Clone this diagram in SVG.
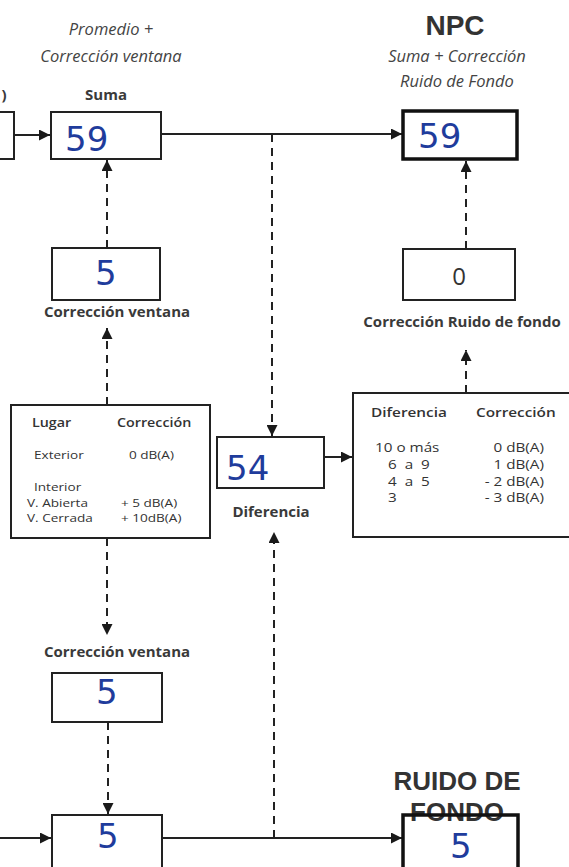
<svg xmlns="http://www.w3.org/2000/svg" width="569" height="867" viewBox="0 0 569 867">
<defs>
<marker id="ah" viewBox="0 0 10 10" refX="10" refY="5" markerWidth="11" markerHeight="11" markerUnits="userSpaceOnUse" orient="auto">
<path d="M0,0 L10,5 L0,10 z" fill="#1a1a1a"/>
</marker>
<style>
.box{fill:#fff;stroke:#222;stroke-width:2}
.thick{fill:none;stroke:#111;stroke-width:3.5}
.ln{fill:none;stroke:#222;stroke-width:2}
.dash{fill:none;stroke:#222;stroke-width:2;stroke-dasharray:8 6}
.it{font-family:"Open Sans","Noto Sans",sans-serif;font-style:italic;font-size:16.5px;fill:#444;text-anchor:middle}
.lb{font-family:"Open Sans","Noto Sans",sans-serif;font-weight:bold;font-size:15px;fill:#3a3a3a;text-anchor:middle}
.big{font-family:"Liberation Sans",Arial,sans-serif;font-weight:bold;fill:#333;text-anchor:middle}
.t{font-family:"Open Sans","Noto Sans",sans-serif;font-size:11.5px;fill:#333}
.th{font-family:"Open Sans","Noto Sans",sans-serif;font-size:13px;font-weight:600;fill:#333}
.r{font-size:12.5px}
.e{text-anchor:end}
.hw{font-family:"DejaVu Sans",sans-serif;font-size:34px;fill:#1f3c9c}
</style>
</defs>
<rect width="569" height="867" fill="#fff"/>

<g id="connectors">
<line class="ln" x1="14" y1="135" x2="50" y2="135" marker-end="url(#ah)"/>
<line class="ln" x1="161" y1="134" x2="402" y2="134" marker-end="url(#ah)"/>
<line class="dash" x1="272" y1="134" x2="272" y2="436" marker-end="url(#ah)"/>
<line class="dash" x1="107" y1="248" x2="107" y2="160" marker-end="url(#ah)"/>
<line class="dash" x1="107" y1="405" x2="107" y2="328" marker-end="url(#ah)"/>
<line class="dash" x1="107" y1="538" x2="107" y2="635" marker-end="url(#ah)"/>
<line class="dash" x1="108" y1="722" x2="108" y2="814" marker-end="url(#ah)"/>
<line class="dash" x1="466" y1="249" x2="466" y2="161" marker-end="url(#ah)"/>
<line class="dash" x1="466" y1="393" x2="466" y2="350" marker-end="url(#ah)"/>
<line class="ln" x1="324" y1="457" x2="352" y2="457" marker-end="url(#ah)"/>
<line class="dash" x1="274" y1="838" x2="274" y2="532" marker-end="url(#ah)"/>
<line class="ln" x1="0" y1="838" x2="51" y2="838" marker-end="url(#ah)"/>
<line class="ln" x1="162" y1="838" x2="402" y2="838" marker-end="url(#ah)"/>
</g>

<g id="input-top">
<rect class="box" x="-6" y="112" width="20" height="47"/>
<text class="lb" x="4" y="100" font-size="18">)</text>
</g>

<g id="suma">
<text class="it" x="111" y="35">Promedio +</text>
<text class="it" x="111" y="62">Corrección ventana</text>
<text class="lb" x="106" y="100" font-size="19">Suma</text>
<rect class="box" x="51" y="112" width="110" height="47"/>
<text class="hw" x="65" y="151">59</text>
</g>

<g id="npc">
<text class="big" x="455" y="35" font-size="28">NPC</text>
<text class="it" x="457" y="62">Suma + Corrección</text>
<text class="it" x="457" y="87">Ruido de Fondo</text>
<rect class="box" x="403" y="111" width="114" height="48"/>
<rect class="thick" x="403" y="111" width="114" height="48"/>
<text class="hw" x="418" y="148">59</text>
</g>

<g id="correccion-ventana-top">
<rect class="box" x="52" y="248" width="108" height="52"/>
<text class="hw" x="95" y="285" font-size="32">5</text>
<text class="lb" x="117" y="317">Corrección ventana</text>
</g>

<g id="tabla-ventana">
<rect class="box" x="11" y="405" width="199" height="133"/>
<text class="th" transform="translate(32 427) scale(1.1 1)">Lugar</text>
<text class="th" transform="translate(117 427) scale(1.1 1)">Corrección</text>
<text class="t" transform="translate(34 459) scale(1.18 1)">Exterior</text>
<text class="t" transform="translate(129 459) scale(1.18 1)">0 dB(A)</text>
<text class="t" transform="translate(34 491) scale(1.18 1)">Interior</text>
<text class="t" transform="translate(27 507) scale(1.18 1)">V. Abierta</text>
<text class="t" transform="translate(121 507) scale(1.18 1)">+ 5 dB(A)</text>
<text class="t" transform="translate(27 522) scale(1.18 1)">V. Cerrada</text>
<text class="t" transform="translate(121 522) scale(1.18 1)">+ 10dB(A)</text>
</g>

<g id="diferencia">
<rect class="box" x="217" y="437" width="107" height="51"/>
<text class="hw" x="226" y="480" font-size="36">54</text>
<text class="lb" x="271" y="517">Diferencia</text>
</g>

<g id="correccion-ruido">
<rect class="box" x="403" y="249" width="112" height="51"/>
<text x="459" y="285" font-family="Open Sans, sans-serif" font-size="24" fill="#333" text-anchor="middle">0</text>
<text class="lb" x="462" y="327">Corrección Ruido de fondo</text>
</g>

<g id="tabla-ruido">
<rect class="box" x="353" y="393" width="230" height="144"/>
<text class="th" transform="translate(371 417) scale(1.18 1)" font-size="14">Diferencia</text>
<text class="th" transform="translate(476 417) scale(1.18 1)" font-size="14">Corrección</text>
<text class="t r" transform="translate(375 452) scale(1.22 1)">10 o más</text>
<text class="t r" transform="translate(388 469) scale(1.22 1)" xml:space="preserve">6  a  9</text>
<text class="t r" transform="translate(388 486) scale(1.22 1)" xml:space="preserve">4  a  5</text>
<text class="t r" transform="translate(388 502) scale(1.22 1)">3</text>
<text class="t r e" transform="translate(544 452) scale(1.22 1)">0 dB(A)</text>
<text class="t r e" transform="translate(544 469) scale(1.22 1)">1 dB(A)</text>
<text class="t r e" transform="translate(544 486) scale(1.22 1)">- 2 dB(A)</text>
<text class="t r e" transform="translate(544 502) scale(1.22 1)">- 3 dB(A)</text>
</g>

<g id="correccion-ventana-bottom">
<text class="lb" x="117" y="657">Corrección ventana</text>
<rect class="box" x="52" y="673" width="110" height="49"/>
<text class="hw" x="96" y="704" font-size="30">5</text>
</g>

<g id="input-bottom">
<rect class="box" x="52" y="815" width="110" height="60"/>
<text class="hw" x="97" y="848" font-size="28">5</text>
</g>

<g id="ruido-fondo">
<text class="big" x="457" y="790" font-size="26">RUIDO DE</text>
<text class="big" x="457" y="821" font-size="26">FONDO</text>
<rect class="thick" x="403" y="815" width="115" height="60"/>
<text class="hw" x="450" y="858" font-size="22">5</text>
</g>
</svg>
